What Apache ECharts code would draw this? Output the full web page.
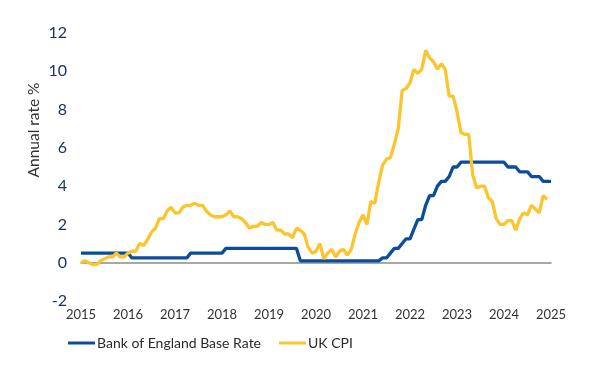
<!DOCTYPE html>
<html>
<head>
<meta charset="utf-8">
<script src="https://cdn.jsdelivr.net/npm/echarts@6/dist/echarts.min.js"></script>
<style>html,body{margin:0;padding:0;background:#fff;}#c{width:602px;height:375px;}</style>
</head>
<body>
<div id="c"></div>
<script>
// Tick labels on the x axis (one every 12 monthly points)
var yearLabels = ['2015','2016','2017','2018','2019','2020','2021','2022','2023','2024','2025'];

// Bank of England Base Rate, monthly (121 points)
var baseRate = [
  0.5,0.5,0.5,0.5,0.5,0.5,0.5,0.5,0.5,0.5,0.5,0.5,0.5,
  0.25,0.25,0.25,0.25,0.25,0.25,0.25,0.25,0.25,0.25,0.25,0.25,0.25,0.25,0.25,
  0.5,0.5,0.5,0.5,0.5,0.5,0.5,0.5,0.5,
  0.75,0.75,0.75,0.75,0.75,0.75,0.75,0.75,0.75,0.75,0.75,0.75,0.75,0.75,0.75,0.75,0.75,0.75,0.75,
  0.1,0.1,0.1,0.1,0.1,0.1,0.1,0.1,0.1,0.1,0.1,0.1,0.1,0.1,0.1,0.1,0.1,0.1,0.1,0.1,0.1,
  0.25,0.25,0.5,0.75,0.75,1.0,1.25,1.25,1.75,2.25,2.25,3.0,3.5,3.5,4.0,4.25,4.25,4.5,5.0,5.0,
  5.25,5.25,5.25,5.25,5.25,5.25,5.25,5.25,5.25,5.25,5.25,5.25,
  5.0,5.0,5.0,4.75,4.75,4.75,4.5,4.5,4.5,4.25,4.25,4.25
];

// UK CPI annual rate, monthly (120 points)
var ukCpi = [
  0.0,0.1,0.0,-0.1,-0.1,0.1,0.2,
  0.3,0.3,0.5,0.3,0.3,0.5,0.6,0.6,1.0,0.9,1.2,1.6,
  1.8,2.3,2.3,2.7,2.9,2.6,2.6,2.9,3.0,3.0,3.1,3.0,
  3.0,2.7,2.5,2.4,2.4,2.4,2.5,2.7,2.4,2.4,2.3,2.1,
  1.8,1.9,1.9,2.1,2.0,2.0,2.1,1.7,1.7,1.5,1.5,1.3,
  1.8,1.7,1.5,0.8,0.5,0.6,1.0,0.2,0.5,0.7,0.3,0.6,
  0.7,0.4,0.7,1.5,2.1,2.5,2.0,3.2,3.1,4.2,5.1,5.4,
  5.5,6.2,7.0,9.0,9.1,9.4,10.1,9.9,10.1,11.1,10.7,10.5,
  10.1,10.4,10.1,8.7,8.7,7.9,6.8,6.7,6.7,4.6,3.9,4.0,
  4.0,3.4,3.2,2.3,2.0,2.0,2.2,2.2,1.7,2.3,2.6,2.5,
  3.0,2.8,2.6,3.5,3.3
];

var seriesNames = ['Bank of England Base Rate', 'UK CPI'];

var categories = [];
for (var i = 0; i < baseRate.length; i++) categories.push(String(i));

var chart = echarts.init(document.getElementById('c'), null, {renderer: 'canvas'});
var font = 'Lato, "Open Sans", sans-serif';
chart.setOption({
  animation: false,
  backgroundColor: '#ffffff',
  grid: {left: 81, right: 51, top: 33, bottom: 74, containLabel: false},
  legend: {
    left: 63, top: 331,
    icon: 'rect', itemWidth: 27, itemHeight: 3, itemGap: 18,
    textStyle: {fontFamily: font, fontSize: 14, color: '#2a2a2a', padding: [0,0,0,-3]},
    data: seriesNames
  },
  graphic: [{
    type: 'text', x: 34, y: 130, rotation: Math.PI / 2,
    style: {text: 'Annual rate %', font: '15.5px ' + font, fill: '#333333', align: 'center', verticalAlign: 'middle'}
  }],
  xAxis: [{
    type: 'category', data: categories, boundaryGap: false,
    axisLine: {show: false, onZero: false}, axisTick: {show: false}, splitLine: {show: false},
    axisLabel: {
      interval: function (idx) { return idx % 12 === 0; },
      formatter: function (v, idx) { return yearLabels[idx / 12]; },
      fontFamily: font, fontSize: 13, color: '#333333', margin: 7
    }
  }, {
    type: 'category', data: categories, boundaryGap: false, position: 'bottom',
    axisLine: {show: true, onZero: true, lineStyle: {color: '#8c8c8c', width: 1.5}},
    axisTick: {show: false}, axisLabel: {show: false}, splitLine: {show: false}
  }],
  yAxis: {
    type: 'value', min: -2, max: 12, interval: 2,
    axisLine: {show: false}, axisTick: {show: false}, splitLine: {show: false},
    axisLabel: {fontFamily: font, fontSize: 16, color: '#1d3260', margin: 14}
  },
  series: [{
    name: seriesNames[0], type: 'line', data: baseRate, xAxisIndex: 0,
    showSymbol: false, symbol: 'none', lineStyle: {color: '#0b4c9c', width: 3.3},
    itemStyle: {color: '#0b4c9c'}, z: 3
  }, {
    name: seriesNames[1], type: 'line', data: ukCpi, xAxisIndex: 0,
    showSymbol: false, symbol: 'none', lineStyle: {color: '#fcc42d', width: 3.3},
    itemStyle: {color: '#fcc42d'}, z: 4
  }]
});
</script>
</body>
</html>
